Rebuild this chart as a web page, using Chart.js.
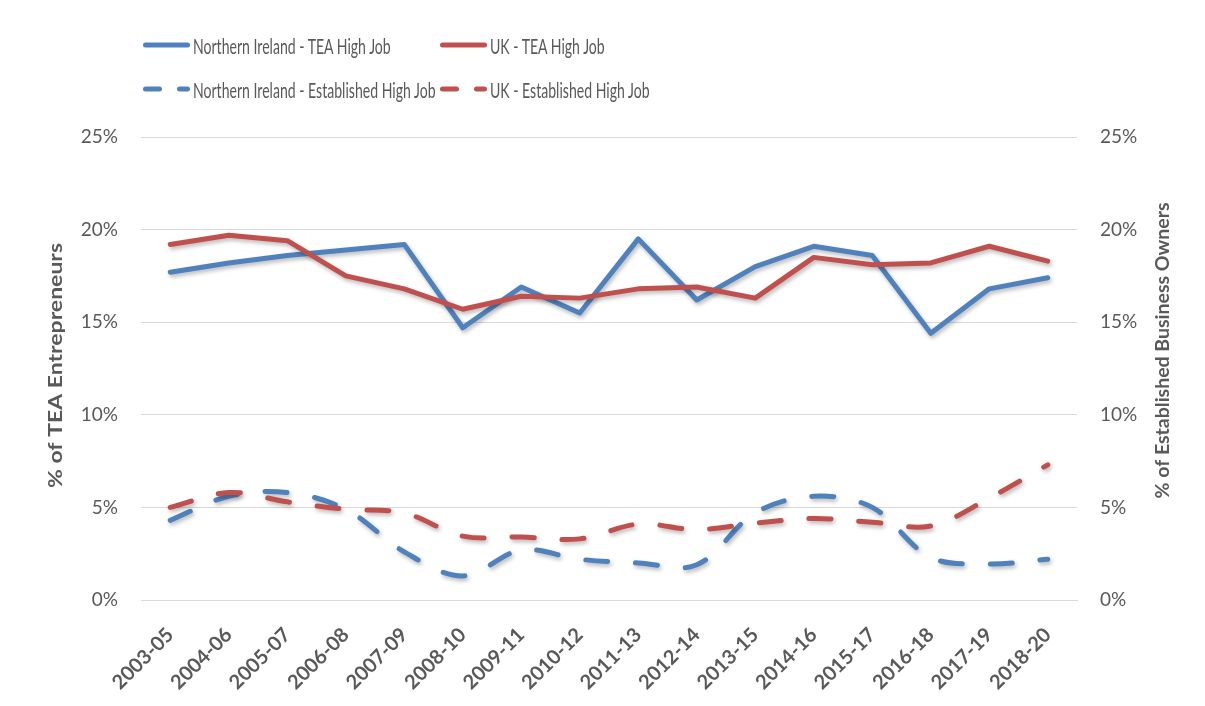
<!DOCTYPE html>
<html>
<head>
<meta charset="utf-8">
<script src="https://cdn.jsdelivr.net/npm/chart.js@4.4.0/dist/chart.umd.min.js"></script>
<style>
  html, body { margin: 0; padding: 0; background: #fff; }
  #wrap { position: relative; width: 1205px; height: 706px; }
  #legend { position: absolute; left: 0; top: 0; font-family: Lato, sans-serif; font-size: 21px; color: #595959; }
  .item { position: absolute; display: flex; align-items: center; white-space: nowrap; }
  .item svg { margin-right: 3px; flex: none; }
  .item span { display: inline-block; transform: scaleX(0.67); transform-origin: left center; }
</style>
</head>
<body>
<div id="wrap">
  <canvas id="c" width="1205" height="706"></canvas>
  <div id="legend"></div>
</div>
<script>
const periods = ['2003-05','2004-06','2005-07','2006-08','2007-09','2008-10','2009-11','2010-12',
                 '2011-13','2012-14','2013-15','2014-16','2015-17','2016-18','2017-19','2018-20'];
const niTea = [17.7, 18.2, 18.6, 18.9, 19.2, 14.7, 16.9, 15.5, 19.5, 16.2, 18.0, 19.1, 18.6, 14.4, 16.8, 17.4];
const ukTea = [19.2, 19.7, 19.4, 17.5, 16.8, 15.7, 16.4, 16.3, 16.8, 16.9, 16.3, 18.5, 18.1, 18.2, 19.1, 18.3];
const niEst = [4.3, 5.6, 5.8, 4.9, 2.6, 1.3, 2.7, 2.2, 2.0, 1.9, 4.7, 5.6, 5.0, 2.3, 1.95, 2.2];
const ukEst = [5.0, 5.8, 5.3, 4.9, 4.7, 3.45, 3.4, 3.3, 4.1, 3.8, 4.15, 4.4, 4.2, 4.0, 5.5, 7.3];
const yTicks = [0, 5, 10, 15, 20, 25];

const BLUE = '#4F81BD', RED = '#C0504D', GREY = '#595959';
const FONT = 'Lato, sans-serif';

const series = [
  { label: 'Northern Ireland - TEA High Job', data: niTea, color: BLUE, dashed: false, axis: 'y', order: 3 },
  { label: 'UK - TEA High Job', data: ukTea, color: RED, dashed: false, axis: 'y', order: 2 },
  { label: 'Northern Ireland - Established High Job', data: niEst, color: BLUE, dashed: true, axis: 'y1', order: 1 },
  { label: 'UK - Established High Job', data: ukEst, color: RED, dashed: true, axis: 'y1', order: 0 }
];

// soft drop shadow like the office chart
const shadow = {
  id: 'shadow',
  beforeDatasetDraw(chart) {
    const c = chart.ctx;
    c.save();
    c.shadowColor = 'rgba(0,0,0,0.28)';
    c.shadowBlur = 4;
    c.shadowOffsetX = 1.5;
    c.shadowOffsetY = 2.5;
  },
  afterDatasetDraw(chart) { chart.ctx.restore(); }
};

// axis titles, both reading bottom to top, stretched to the original's length
const axisTitles = {
  id: 'axisTitles',
  afterDraw(chart) {
    const { ctx, chartArea: a } = chart;
    const mid = (a.top + a.bottom) / 2;
    ctx.save();
    ctx.fillStyle = GREY;
    ctx.font = 'bold 19px ' + FONT;
    ctx.textAlign = 'center';
    ctx.textBaseline = 'middle';
    [[a.left - 85, mid - 3, '% of TEA Entrepreneurs', 245],
     [a.right + 86, mid - 18, '% of Established Business Owners', 296]].forEach(([x, y, t, len]) => {
      ctx.save();
      ctx.translate(x, y);
      ctx.rotate(-Math.PI / 2);
      ctx.scale(len / ctx.measureText(t).width, 1);
      ctx.fillText(t, 0, 0);
      ctx.restore();
    });
    ctx.restore();
  }
};

const yScale = (pos, width, grid) => ({
  type: 'linear', position: pos, min: 0, max: 25,
  afterBuildTicks: s => { s.ticks = yTicks.map(v => ({ value: v })); },
  afterFit: s => { s.width = width; },
  border: { display: false },
  grid: grid ? { color: '#d9d9d9', lineWidth: 1, drawTicks: false } : { display: false, drawTicks: false },
  ticks: { color: GREY, padding: 23, font: { family: FONT, size: 19 }, callback: v => v + '%' }
});

new Chart(document.getElementById('c'), {
  type: 'line',
  data: {
    labels: periods,
    datasets: series.map(s => ({
      label: s.label, data: s.data, yAxisID: s.axis, order: s.order,
      borderColor: s.color, backgroundColor: s.color, borderWidth: 5,
      borderDash: s.dashed ? [22, 28] : [], borderCapStyle: 'round', borderJoinStyle: 'round',
      tension: s.dashed ? 0.35 : 0, pointRadius: 0, fill: false
    }))
  },
  options: {
    responsive: false, animation: false, devicePixelRatio: 1,
    layout: { padding: { top: 137, left: 0, right: 0, bottom: 0 } },
    plugins: { legend: { display: false }, tooltip: { enabled: false } },
    scales: {
      x: {
        offset: true,
        afterFit: s => { s.height = 106; },
        grid: { display: false },
        border: { display: true, color: '#d9d9d9', width: 1 },
        ticks: { color: GREY, minRotation: 45, maxRotation: 45, padding: 15, font: { family: FONT, size: 20, weight: 'bold' } }
      },
      y: yScale('left', 141, true),
      y1: yScale('right', 128, false)
    }
  },
  plugins: [shadow, axisTitles]
});

// legend laid out in two columns like the original
const legendEl = document.getElementById('legend');
const cols = [143, 440], rows = [45, 89];
series.forEach((s, i) => {
  const d = document.createElement('div');
  d.className = 'item';
  d.style.left = cols[i % 2] + 'px';
  d.style.top = (rows[Math.floor(i / 2)] - 13) + 'px';
  d.style.height = '26px';
  const dash = s.dashed ? ' stroke-dasharray="14 20"' : '';
  d.innerHTML = '<svg width="47" height="10"><line x1="2.5" y1="5" x2="44.5" y2="5" stroke="' + s.color +
    '" stroke-width="5" stroke-linecap="round"' + dash + '/></svg><span>' + s.label + '</span>';
  legendEl.appendChild(d);
});
</script>
</body>
</html>
